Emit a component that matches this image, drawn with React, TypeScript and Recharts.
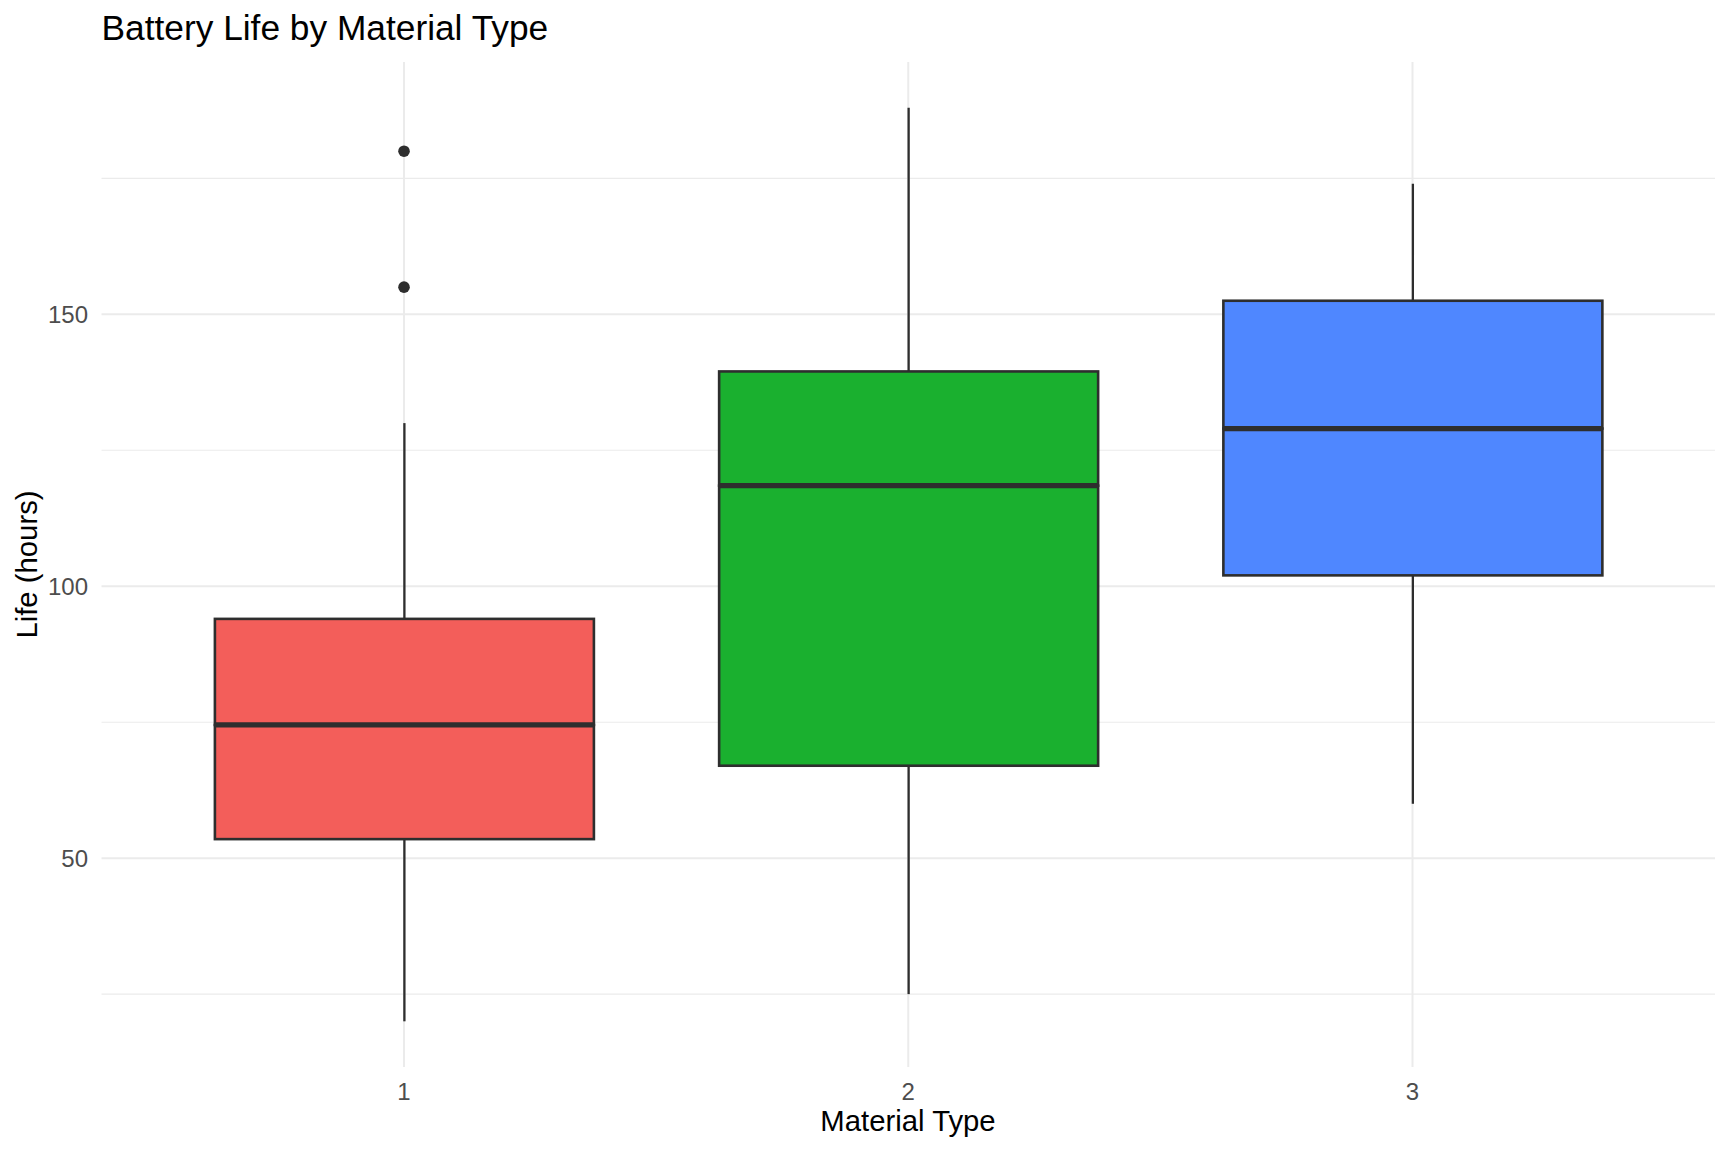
import React from 'react';
import { ComposedChart, Bar, Line, XAxis, YAxis, CartesianGrid } from 'recharts';

// five-number summaries per material type
const materials = ['1', '2', '3'];
const whiskerLow = [20, 25, 60];
const boxQ1 = [53.5, 67, 102];
const boxMedian = [74.5, 118.5, 129];
const boxQ3 = [94, 139.5, 152.5];
const whiskerHigh = [130, 188, 174];
const outliers = [[155, 180], [], []];

const yMajorTicks = [50, 100, 150];
const yMinorTicks = [25, 75, 125, 175];
const yDomain = [11.6, 196.4];

const fills = ['#F35E5A', '#1AB02F', '#4F87FF'];
const INK = '#2E2E2E';
const GRID = '#EBEBEB';
const FONT = '"Liberation Sans", Arial, Helvetica, sans-serif';

const W = 1728;
const H = 1152;

const maxOutliers = Math.max(...outliers.map((o) => o.length));

const data = materials.map((m, i) => {
    const row: Record<string, any> = {
        material: m,
        base: whiskerLow[i],
        lowWhisker: boxQ1[i] - whiskerLow[i],
        lowBox: boxMedian[i] - boxQ1[i],
        highBox: boxQ3[i] - boxMedian[i],
        highWhisker: whiskerHigh[i] - boxQ3[i],
    };
    for (let k = 0; k < maxOutliers; k++) {
        row['out' + k] = outliers[i][k] ?? null;
    }
    return row;
});

const Whisker = (props: any) => {
    const { x, y, width, height } = props;
    const cx = x + width / 2;
    return <line x1={cx} x2={cx} y1={y} y2={y + height} stroke={INK} strokeWidth={2.3} />;
};

const LowerBox = (props: any) => {
    const { x, y, width, height, index } = props;
    return <rect x={x} y={y} width={width} height={height} fill={fills[index]} stroke={INK} strokeWidth={2.6} />;
};

const UpperBox = (props: any) => {
    const { x, y, width, height, index } = props;
    return (
        <g>
            <rect x={x} y={y} width={width} height={height} fill={fills[index]} stroke={INK} strokeWidth={2.6} />
            <line x1={x} x2={x + width} y1={y + height} y2={y + height} stroke={INK} strokeWidth={5.3} />
        </g>
    );
};

export default function App() {
    return (
        <div style={{ position: 'relative', width: W, height: H, fontFamily: FONT }}>
            <style>{'body{margin:0}'}</style>
            <ComposedChart
                width={W}
                height={H}
                data={data}
                margin={{ top: 62, right: 13, bottom: 25, left: 11.5 }}
            >
                {/* minor grid from a hidden axis that shares the domain */}
                <CartesianGrid yAxisId="minor" stroke={GRID} strokeWidth={1.1} vertical={false} syncWithTicks />
                <CartesianGrid stroke={GRID} strokeWidth={2} syncWithTicks />
                <XAxis
                    dataKey="material"
                    type="category"
                    height={60}
                    padding={{ left: 50.4, right: 50.4 }}
                    axisLine={false}
                    tickLine={false}
                    tickSize={0}
                    tickMargin={16}
                    tick={{ fill: '#4D4D4D', fontSize: 24, fontFamily: FONT }}
                />
                <YAxis
                    type="number"
                    domain={yDomain}
                    allowDataOverflow={true}
                    ticks={yMajorTicks}
                    width={90}
                    axisLine={false}
                    tickLine={false}
                    tickSize={0}
                    tickMargin={13.5}
                    tick={{ fill: '#4D4D4D', fontSize: 24, fontFamily: FONT }}
                />
                <YAxis
                    yAxisId="minor"
                    type="number"
                    domain={yDomain}
                    allowDataOverflow={true}
                    ticks={yMinorTicks}
                    hide
                />
                <Bar dataKey="base" stackId="box" barSize={379} fill="none" isAnimationActive={false} shape={() => null} />
                <Bar dataKey="lowWhisker" stackId="box" barSize={379} isAnimationActive={false} shape={Whisker} />
                <Bar dataKey="lowBox" stackId="box" barSize={379} isAnimationActive={false} shape={LowerBox} />
                <Bar dataKey="highBox" stackId="box" barSize={379} isAnimationActive={false} shape={UpperBox} />
                <Bar dataKey="highWhisker" stackId="box" barSize={379} isAnimationActive={false} shape={Whisker} />
                {Array.from({ length: maxOutliers }, (_, k) => (
                    <Line
                        key={k}
                        dataKey={'out' + k}
                        stroke="none"
                        isAnimationActive={false}
                        dot={{ r: 5.8, fill: INK, stroke: 'none' }}
                        activeDot={false}
                    />
                ))}
            </ComposedChart>
            <svg width={W} height={H} style={{ position: 'absolute', left: 0, top: 0, pointerEvents: 'none' }}>
                <text x={101.5} y={40} fontSize={35.3} fill="#000" fontFamily={FONT}>
                    Battery Life by Material Type
                </text>
                <text x={908} y={1131} fontSize={29.3} fill="#000" textAnchor="middle" fontFamily={FONT}>
                    Material Type
                </text>
                <text
                    x={0}
                    y={0}
                    fontSize={29.3}
                    fill="#000"
                    textAnchor="middle"
                    fontFamily={FONT}
                    transform="translate(37 564.5) rotate(-90)"
                >
                    Life (hours)
                </text>
            </svg>
        </div>
    );
}
